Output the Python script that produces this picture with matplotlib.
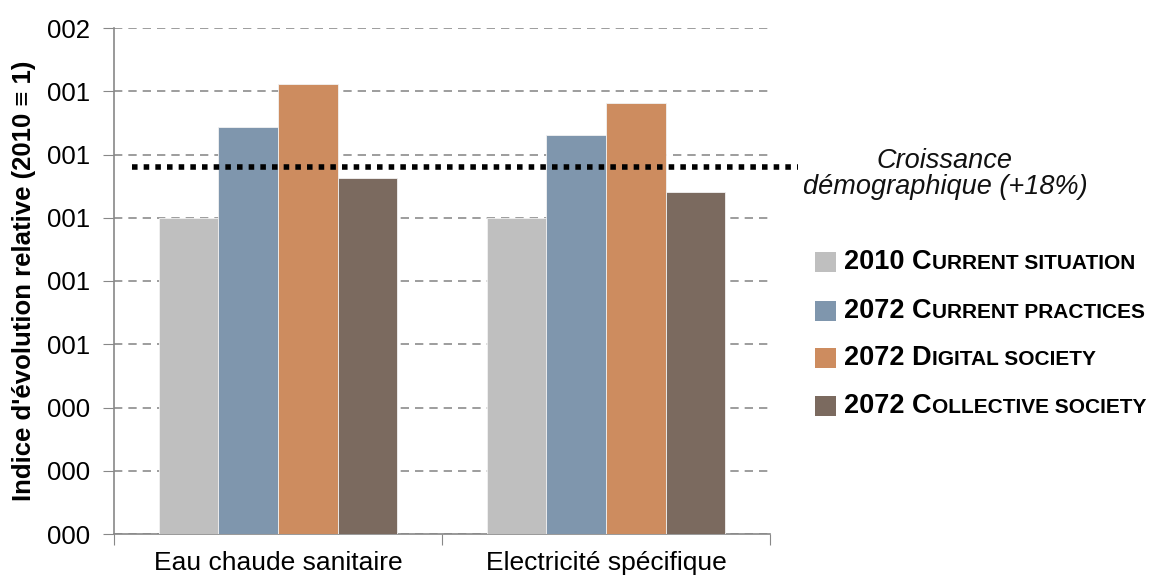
import numpy as np
import matplotlib
matplotlib.use("Agg")
import matplotlib.pyplot as plt
from matplotlib.offsetbox import TextArea, DrawingArea, HPacker, AnchoredOffsetbox
from matplotlib.patches import Rectangle
from matplotlib.ticker import FuncFormatter

plt.rcParams['font.family'] = ['Liberation Sans', 'DejaVu Sans']

categories = ["Eau chaude sanitaire", "Electricité spécifique"]
series_names = ["2010 Current situation", "2072 Current practices",
                "2072 Digital society", "2072 Collective society"]
series_values = [
    [1.00, 1.00],
    [1.287, 1.262],
    [1.422, 1.362],
    [1.126, 1.082],
]
colors = ["#BFBFBF", "#7F96AD", "#CD8C5F", "#7B6A5F"]
demo_growth = 1.16
y_ticks = [0, 0.2, 0.4, 0.6, 0.8, 1.0, 1.2, 1.4, 1.6]

fig = plt.figure(figsize=(11.61, 5.75), dpi=100)
ax = fig.add_axes([114 / 1161, 1 - 534 / 575, (770 - 114) / 1161, (534 - 28) / 575])

x = np.arange(len(categories))
w = 0.182
for k, (name, vals) in enumerate(zip(series_names, series_values)):
    ax.bar(x + (k - 1.5) * w, vals, width=w, color=colors[k],
           edgecolor="#F2F2F2", linewidth=0.6, zorder=3)

ax.set_xlim(-0.5, 1.5)
ax.set_ylim(0, 1.6)
ax.set_yticks(y_ticks)
# original shows values rounded to integers with 3 digits
ax.yaxis.set_major_formatter(FuncFormatter(lambda v, p: f"{int(round(v)):03d}"))
ax.tick_params(axis="y", labelsize=18.5, length=8, color="#888888", pad=9)
ax.grid(axis="y", linestyle=(0, (5, 3.6)), color="#8C8C8C", linewidth=1.2, zorder=0)

ax.set_xticks([-0.5, 0.5, 1.5])
ax.set_xticklabels([])
ax.set_xticks(x, minor=True)
ax.set_xticklabels(categories, minor=True, fontsize=19)
ax.tick_params(axis="x", which="major", length=8, color="#888888", direction="out")
ax.tick_params(axis="x", which="minor", length=0, pad=12)

for s in ["top", "right"]:
    ax.spines[s].set_visible(False)
ax.spines["left"].set_color("#888888")
ax.spines["bottom"].set_color("#888888")
ax.spines["left"].set_linewidth(1.2)
ax.spines["bottom"].set_linewidth(1.2)

ax.set_ylabel("Indice d'évolution relative (2010 ≡ 1)", fontsize=18.5,
              fontweight="bold", labelpad=8)

# population growth dotted line (extends past the plot area)
ax.plot([-0.445, 1.584], [demo_growth, demo_growth], color="black",
        linestyle=(0, (1, 1.1)), linewidth=4, clip_on=False, zorder=4)
fig.text(945 / 1161, 1 - 174 / 575, "Croissance\ndémographique (+18%)",
         ha="center", va="center", fontsize=19.5, style="italic",
         color="#111111", linespacing=1.0)

# legend with small caps
row_y = [262, 311, 358, 406]
for k, name in enumerate(series_names):
    year, rest = name.split(" ", 1)
    first, tail = rest[0], rest[1:]
    da = DrawingArea(15, 15, 0, 0)
    da.add_artist(Rectangle((0, 0), 15, 15, facecolor=colors[k], edgecolor="none"))
    t1 = TextArea(f"{year} {first}", textprops=dict(fontsize=19.5, fontweight="bold"))
    t2 = TextArea(tail.upper(), textprops=dict(fontsize=15, fontweight="bold"))
    t_box = HPacker(children=[t1, t2], align="baseline", pad=0, sep=0)
    box = HPacker(children=[da, t_box], align="center", pad=0, sep=6)
    anch = AnchoredOffsetbox(loc="center left", child=box, frameon=False,
                             bbox_to_anchor=(815 / 1161, 1 - row_y[k] / 575),
                             bbox_transform=fig.transFigure, borderpad=0, pad=0)
    fig.add_artist(anch)

fig.savefig("out.png", dpi=100)
